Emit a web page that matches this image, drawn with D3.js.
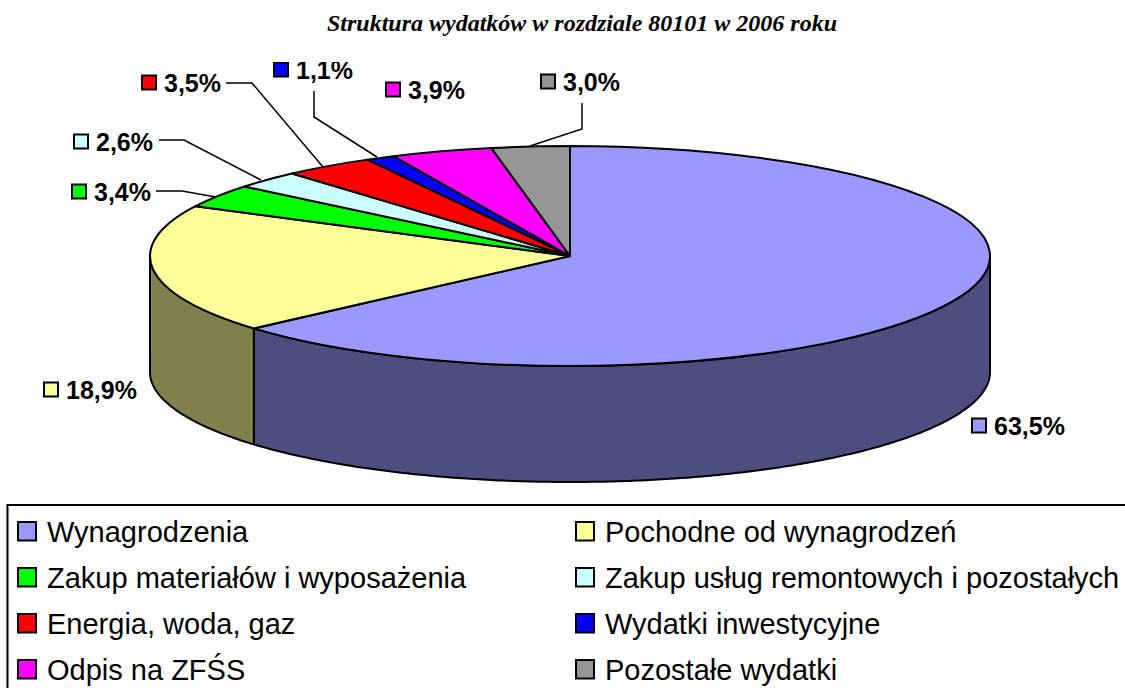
<!DOCTYPE html>
<html>
<head>
<meta charset="utf-8">
<script src="https://cdn.jsdelivr.net/npm/d3@7"></script>
<style>
body { margin: 0; background: #fff; }
svg { display: block; }
</style>
</head>
<body>
<script>
var w = 1125;
var h = 688;

var title = "Struktura wydatków w rozdziale 80101 w 2006 roku";

// Pie data, clockwise from 12 o'clock
var categories = ["Wynagrodzenia", "Pochodne od wynagrodzeń", "Zakup materiałów i wyposażenia",
    "Zakup usług remontowych i pozostałych", "Energia, woda, gaz", "Wydatki inwestycyjne",
    "Odpis na ZFŚS", "Pozostałe wydatki"];
var values = [63.5, 18.9, 3.4, 2.6, 3.5, 1.1, 3.9, 3.0];
var valueLabels = ["63,5%", "18,9%", "3,4%", "2,6%", "3,5%", "1,1%", "3,9%", "3,0%"];
var colors = ["#9999ff", "#ffff99", "#00ff00", "#ccffff", "#ff0000", "#0000ff", "#ff00ff", "#969696"];
var sideColors = ["#4d4d80", "#80804d", "#008000", "#668080", "#800000", "#000080", "#800080", "#4b4b4b"];

// Label placement: left edge of the swatch and vertical centre
var labelX = [972, 44, 72, 74, 142, 274, 386, 541];
var labelY = [426, 390, 192, 142, 83, 70, 90, 82];

// Leader line elbows, [start, elbow, end]
var leaders = [
    null,
    null,
    [[156, 191], [182, 191], [216, 197]],
    [[159, 140], [184, 140], [261, 180]],
    [[226, 83], [252, 83], [323, 167]],
    [[314, 91], [314, 117], [377, 157]],
    null,
    [[582, 103], [582, 129], [530, 146]]
];

// Pie geometry
var cx = 570;
var cy = 256;
var rx = 420;
var ry = 110;
var depth = 116;

var svg = d3.select("body")
    .append("svg")
    .attr("width", w)
    .attr("height", h)
    .style("font-family", "'Liberation Sans', Arial, sans-serif");

svg.append("text")
    .attr("x", 582)
    .attr("y", 31)
    .attr("text-anchor", "middle")
    .style("font-family", "'Liberation Serif', 'Times New Roman', serif")
    .style("font-weight", "bold")
    .style("font-style", "italic")
    .style("font-size", "24px")
    .text(title);

var slices = d3.pie().sort(null)(values);

// Unit circle to pixels
var xScale = d3.scaleLinear().domain([-1, 1]).range([cx - rx, cx + rx]);
var yScale = d3.scaleLinear().domain([-1, 1]).range([cy - ry, cy + ry]);

// Side wall: only the part of each slice on the front half of the pie
var wall = d3.area()
    .x(function(a) { return xScale(Math.sin(a)); })
    .y0(function(a) { return yScale(-Math.cos(a)); })
    .y1(function(a) { return yScale(-Math.cos(a)) + depth; });

svg.append("g")
    .selectAll("path")
    .data(slices.filter(function(d) {
        return d.startAngle < 1.5 * Math.PI && d.endAngle > 0.5 * Math.PI;
    }))
    .enter()
    .append("path")
    .attr("d", function(d) {
        var a0 = Math.max(d.startAngle, 0.5 * Math.PI);
        var a1 = Math.min(d.endAngle, 1.5 * Math.PI);
        return wall(d3.range(a0, a1, 0.01).concat([a1]));
    })
    .attr("fill", function(d) { return sideColors[d.index]; })
    .attr("stroke", "#000")
    .attr("stroke-width", 2)
    .attr("stroke-linejoin", "round");

// Top face: regular arc squashed into an ellipse
var arc = d3.arc().innerRadius(0).outerRadius(rx);

svg.append("g")
    .attr("transform", "translate(" + cx + "," + cy + ") scale(1," + (ry / rx) + ")")
    .selectAll("path")
    .data(slices)
    .enter()
    .append("path")
    .attr("d", arc)
    .attr("fill", function(d) { return colors[d.index]; })
    .attr("stroke", "#000")
    .attr("stroke-width", 2)
    .attr("stroke-linejoin", "round")
    .attr("vector-effect", "non-scaling-stroke");

// Leader lines
var leaderLine = d3.line();
svg.append("g")
    .selectAll("path")
    .data(leaders.filter(function(d) { return d; }))
    .enter()
    .append("path")
    .attr("d", leaderLine)
    .attr("fill", "none")
    .attr("stroke", "#000")
    .attr("stroke-width", 1.5);

// The chart frame cuts the top off the 1,1% label
svg.append("clipPath")
    .attr("id", "plot-clip")
    .append("rect")
    .attr("x", 0)
    .attr("y", 62)
    .attr("width", w)
    .attr("height", h);

var labels = svg.append("g")
    .attr("clip-path", "url(#plot-clip)")
    .selectAll("g")
    .data(valueLabels)
    .enter()
    .append("g")
    .attr("transform", function(d, i) { return "translate(" + labelX[i] + "," + labelY[i] + ")"; });

labels.append("rect")
    .attr("y", -7.5)
    .attr("width", 14)
    .attr("height", 14)
    .attr("fill", function(d, i) { return colors[i]; })
    .attr("stroke", "#000")
    .attr("stroke-width", 2);

labels.append("text")
    .attr("x", 22)
    .attr("y", 8.5)
    .style("font-weight", "bold")
    .style("font-size", "25px")
    .text(function(d) { return d; });

// Legend
svg.append("rect")
    .attr("x", 7.5)
    .attr("y", 505)
    .attr("width", w)
    .attr("height", h)
    .attr("fill", "#fff")
    .attr("stroke", "#000")
    .attr("stroke-width", 2);

var legendCol = d3.scalePoint().domain([0, 1]).range([18, 576]);
var legendRow = d3.scalePoint().domain([0, 1, 2, 3]).range([531, 669]);

var legendItems = svg.append("g")
    .selectAll("g")
    .data(categories)
    .enter()
    .append("g")
    .attr("transform", function(d, i) {
        return "translate(" + legendCol(i % 2) + "," + legendRow(Math.floor(i / 2)) + ")";
    });

legendItems.append("rect")
    .attr("y", -9)
    .attr("width", 18)
    .attr("height", 18.5)
    .attr("fill", function(d, i) { return colors[i]; })
    .attr("stroke", "#000")
    .attr("stroke-width", 2);

legendItems.append("text")
    .attr("x", 29)
    .attr("y", 10.5)
    .style("font-size", "29px")
    .text(function(d) { return d; });
</script>
</body>
</html>
